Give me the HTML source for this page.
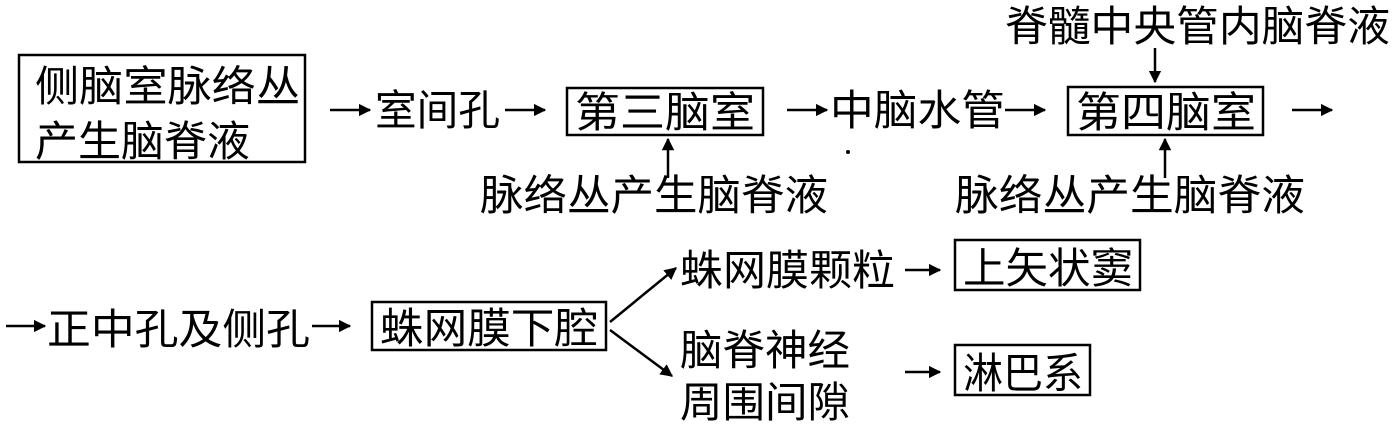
<!DOCTYPE html>
<html><head><meta charset="utf-8"><style>
html,body{margin:0;padding:0;background:#fff;width:1394px;height:427px;overflow:hidden}
text{font-family:"Liberation Sans","Noto Sans CJK SC",sans-serif;font-size:42px;fill:#000}
</style></head><body>
<svg width="1394" height="427" viewBox="0 0 1394 427" xmlns="http://www.w3.org/2000/svg">
<defs><marker id="a" viewBox="0 0 10 10" refX="9" refY="5" markerWidth="5" markerHeight="5" orient="auto"><path d="M0,0 L10,5 L0,10 z" fill="#000"/></marker></defs>
<g fill="none" stroke="#000" stroke-width="2.5">
<rect x="19" y="55" width="286" height="107"/>
<rect x="567" y="88" width="196" height="47"/>
<rect x="1068" y="87" width="195" height="48"/>
<rect x="372" y="302" width="234" height="48"/>
<rect x="955" y="240" width="185" height="50"/>
<rect x="955" y="345" width="135" height="50"/>
</g>
<g stroke="#000" stroke-width="2.5" marker-end="url(#a)">
<line x1="330" y1="110" x2="370" y2="110"/>
<line x1="505" y1="110" x2="545" y2="110"/>
<line x1="668" y1="178" x2="668" y2="139"/>
<line x1="787" y1="110" x2="827" y2="110"/>
<line x1="1005" y1="110" x2="1045" y2="110"/>
<line x1="1155" y1="48" x2="1155" y2="82"/>
<line x1="1165" y1="178" x2="1165" y2="139"/>
<line x1="1292" y1="110" x2="1332" y2="110"/>
<line x1="6" y1="326" x2="45" y2="326"/>
<line x1="312" y1="326" x2="350" y2="326"/>
<line x1="610" y1="322" x2="676" y2="268"/>
<line x1="610" y1="330" x2="672" y2="376"/>
<line x1="905" y1="270" x2="940" y2="270"/>
<line x1="905" y1="372" x2="940" y2="372"/>
</g>
<circle cx="848" cy="152" r="2" fill="#000"/>
<text x="35" y="101" textLength="265" lengthAdjust="spacingAndGlyphs">侧脑室脉络丛</text>
<text x="35" y="156" textLength="215" lengthAdjust="spacingAndGlyphs">产生脑脊液</text>
<text x="375" y="125" textLength="125" lengthAdjust="spacingAndGlyphs">室间孔</text>
<text x="575" y="127" textLength="180" lengthAdjust="spacingAndGlyphs">第三脑室</text>
<text x="480" y="210" textLength="348" lengthAdjust="spacingAndGlyphs">脉络丛产生脑脊液</text>
<text x="830" y="125" textLength="175" lengthAdjust="spacingAndGlyphs">中脑水管</text>
<text x="1076" y="127" textLength="180" lengthAdjust="spacingAndGlyphs">第四脑室</text>
<text x="1005" y="41" textLength="385" lengthAdjust="spacingAndGlyphs">脊髓中央管内脑脊液</text>
<text x="955" y="210" textLength="350" lengthAdjust="spacingAndGlyphs">脉络丛产生脑脊液</text>
<text x="47" y="344" textLength="263" lengthAdjust="spacingAndGlyphs">正中孔及侧孔</text>
<text x="380" y="343" textLength="218" lengthAdjust="spacingAndGlyphs">蛛网膜下腔</text>
<text x="680" y="285" textLength="215" lengthAdjust="spacingAndGlyphs">蛛网膜颗粒</text>
<text x="963" y="283" textLength="170" lengthAdjust="spacingAndGlyphs">上矢状窦</text>
<text x="680" y="365" textLength="170" lengthAdjust="spacingAndGlyphs">脑脊神经</text>
<text x="680" y="417" textLength="170" lengthAdjust="spacingAndGlyphs">周围间隙</text>
<text x="963" y="388" textLength="120" lengthAdjust="spacingAndGlyphs">淋巴系</text>
</svg>
</body></html>
